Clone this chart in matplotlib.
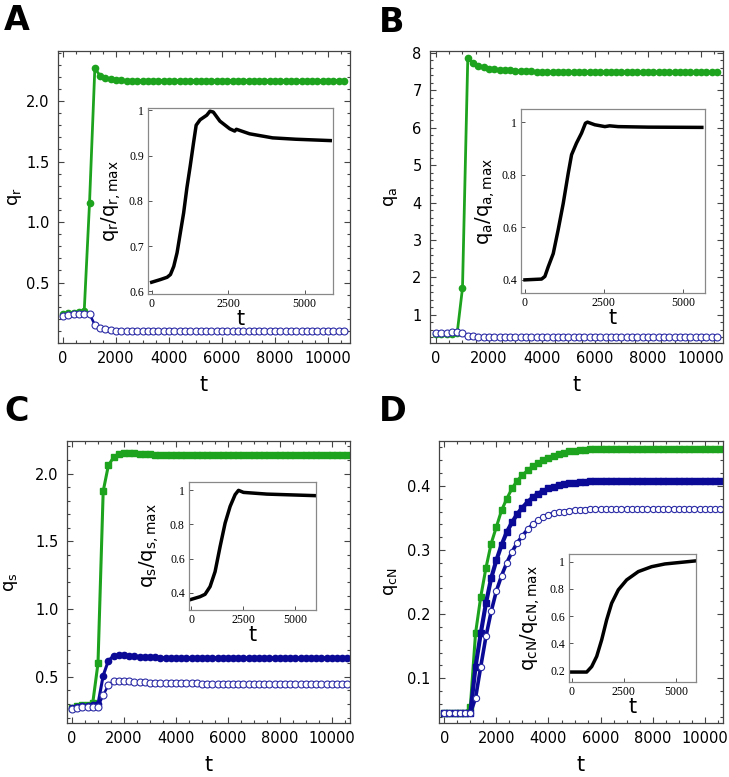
import numpy as np
import matplotlib
matplotlib.use("Agg")
import matplotlib.pyplot as plt
from matplotlib.ticker import MultipleLocator, FuncFormatter

plt.rcParams["font.family"] = ["DejaVu Sans"]
plt.rcParams["mathtext.fontset"] = "dejavusans"

W, H = 729, 777

# time grid of the main panels (one marker every 200 time units)
t = np.arange(0, 10601, 200)

# ---- panel A : q_r
qr_green = [0.24, 0.245, 0.25, 0.26, 0.265, 1.16, 2.27, 2.21, 2.19, 2.18, 2.175, 2.172,
            2.17, 2.17, 2.17, 2.17, 2.17, 2.17, 2.17, 2.17, 2.17, 2.17,
            2.17, 2.17, 2.17, 2.17, 2.17, 2.17, 2.17, 2.17, 2.17, 2.17,
            2.17, 2.17, 2.17, 2.17, 2.17, 2.17, 2.17, 2.17, 2.17, 2.17,
            2.17, 2.17, 2.17, 2.17, 2.17, 2.17, 2.17, 2.17, 2.17, 2.17, 2.17, 2.17]
qr_open = [0.225, 0.235, 0.24, 0.24, 0.24, 0.24, 0.15, 0.125, 0.113, 0.106, 0.102, 0.10,
           0.098, 0.097, 0.096, 0.096, 0.096, 0.096, 0.096, 0.096, 0.096, 0.096,
           0.096, 0.096, 0.096, 0.096, 0.096, 0.096, 0.096, 0.096, 0.096, 0.096,
           0.096, 0.096, 0.096, 0.096, 0.096, 0.096, 0.096, 0.096, 0.096, 0.096,
           0.096, 0.096, 0.096, 0.096, 0.096, 0.096, 0.096, 0.096, 0.096, 0.096, 0.096, 0.096]

# ---- panel B : q_a
qa_green = [0.5, 0.5, 0.5, 0.5, 0.52, 1.72, 7.87, 7.72, 7.65, 7.61, 7.58, 7.56,
            7.55, 7.54, 7.53, 7.52, 7.515, 7.51, 7.505, 7.50, 7.50, 7.495,
            7.49, 7.49, 7.49, 7.49, 7.49, 7.49, 7.49, 7.49, 7.49, 7.49,
            7.49, 7.49, 7.49, 7.49, 7.49, 7.49, 7.485, 7.485, 7.485, 7.485,
            7.485, 7.485, 7.48, 7.48, 7.48, 7.48, 7.48, 7.48, 7.48, 7.48, 7.48, 7.48]
qa_open = [0.53, 0.53, 0.53, 0.535, 0.535, 0.52, 0.45, 0.43, 0.42, 0.41, 0.405, 0.40,
           0.40, 0.40, 0.40, 0.40, 0.40, 0.40, 0.40, 0.40, 0.40, 0.40,
           0.40, 0.40, 0.40, 0.40, 0.40, 0.40, 0.40, 0.40, 0.40, 0.40,
           0.40, 0.40, 0.40, 0.40, 0.40, 0.40, 0.40, 0.40, 0.40, 0.40,
           0.40, 0.40, 0.40, 0.40, 0.40, 0.40, 0.40, 0.40, 0.40, 0.40, 0.40, 0.40]

# ---- panel C : q_s
qs_green = [0.27, 0.285, 0.29, 0.295, 0.31, 0.60, 1.87, 2.06, 2.12, 2.147, 2.15, 2.15,
            2.148, 2.146, 2.144, 2.142, 2.14, 2.139, 2.138, 2.137, 2.136, 2.136,
            2.136, 2.136, 2.136, 2.136, 2.135, 2.135, 2.135, 2.135, 2.135, 2.135,
            2.135, 2.135, 2.135, 2.135, 2.135, 2.135, 2.135, 2.135, 2.135, 2.135,
            2.135, 2.135, 2.135, 2.135, 2.135, 2.135, 2.135, 2.135, 2.135, 2.135, 2.135, 2.135]
qs_filled = [0.27, 0.28, 0.285, 0.285, 0.29, 0.30, 0.51, 0.62, 0.655, 0.66, 0.66, 0.655,
             0.652, 0.65, 0.648, 0.646, 0.644, 0.643, 0.642, 0.641, 0.64, 0.64,
             0.64, 0.64, 0.64, 0.64, 0.64, 0.64, 0.64, 0.64, 0.64, 0.64,
             0.64, 0.64, 0.64, 0.64, 0.64, 0.64, 0.64, 0.64, 0.64, 0.64,
             0.64, 0.64, 0.64, 0.64, 0.64, 0.64, 0.64, 0.64, 0.64, 0.64, 0.64, 0.64]
qs_open = [0.26, 0.27, 0.28, 0.28, 0.28, 0.28, 0.365, 0.44, 0.468, 0.472, 0.47, 0.467,
           0.464, 0.461, 0.459, 0.458, 0.457, 0.456, 0.455, 0.455, 0.454, 0.454,
           0.453, 0.453, 0.452, 0.45, 0.45, 0.45, 0.45, 0.45, 0.45, 0.45,
           0.45, 0.45, 0.45, 0.45, 0.45, 0.45, 0.45, 0.45, 0.45, 0.45,
           0.45, 0.45, 0.45, 0.45, 0.45, 0.45, 0.45, 0.45, 0.45, 0.45, 0.45, 0.45]

# ---- panel D : q_cN
qc_green = [0.045, 0.045, 0.045, 0.045, 0.045, 0.055, 0.17, 0.227, 0.272, 0.31, 0.336, 0.362,
            0.38, 0.396, 0.408, 0.417, 0.424, 0.431, 0.436, 0.44, 0.444, 0.447,
            0.45, 0.452, 0.454, 0.455, 0.456, 0.456, 0.457, 0.457, 0.458, 0.458,
            0.458, 0.458, 0.458, 0.458, 0.458, 0.458, 0.458, 0.458, 0.458, 0.458,
            0.458, 0.458, 0.458, 0.458, 0.458, 0.458, 0.458, 0.458, 0.458, 0.458, 0.458, 0.458]
qc_filled = [0.045, 0.045, 0.045, 0.045, 0.045, 0.045, 0.118, 0.17, 0.217, 0.256, 0.284, 0.308,
             0.328, 0.343, 0.356, 0.366, 0.375, 0.382, 0.388, 0.392, 0.396, 0.399,
             0.401, 0.403, 0.404, 0.405, 0.406, 0.406, 0.407, 0.407, 0.408, 0.408,
             0.408, 0.408, 0.408, 0.408, 0.408, 0.408, 0.408, 0.408, 0.408, 0.408,
             0.408, 0.408, 0.408, 0.408, 0.408, 0.408, 0.408, 0.408, 0.408, 0.408, 0.408, 0.408]
qc_open = [0.045, 0.045, 0.045, 0.045, 0.045, 0.045, 0.069, 0.118, 0.165, 0.204, 0.236, 0.26,
           0.28, 0.297, 0.311, 0.322, 0.332, 0.34, 0.346, 0.351, 0.355, 0.357,
           0.359, 0.36, 0.361, 0.362, 0.363, 0.363, 0.364, 0.364, 0.364, 0.364,
           0.364, 0.364, 0.364, 0.364, 0.364, 0.364, 0.364, 0.364, 0.364, 0.364,
           0.364, 0.364, 0.364, 0.364, 0.364, 0.364, 0.364, 0.364, 0.364, 0.364, 0.364, 0.364]

# ---- insets (normalised curves)
ins_a_t = [0, 290, 506, 614, 722, 830, 937, 1045, 1153, 1261, 1369, 1455, 1584, 1692,
           1800, 1907, 2015, 2231, 2554, 2716, 2770, 3200, 3955, 4709, 5840]
ins_a_v = [0.62, 0.626, 0.631, 0.637, 0.655, 0.685, 0.729, 0.773, 0.829, 0.877, 0.928,
           0.967, 0.979, 0.984, 0.989, 0.998, 0.996, 0.976, 0.959, 0.954, 0.958, 0.948,
           0.939, 0.936, 0.933]
ins_b_t = [0, 526, 630, 737, 895, 1050, 1210, 1370, 1475, 1630, 1790, 1915, 1980, 2210,
           2530, 2680, 2950, 3900, 5600]
ins_b_v = [0.40, 0.403, 0.413, 0.45, 0.50, 0.59, 0.69, 0.806, 0.876, 0.92, 0.958, 0.996,
           1.0, 0.99, 0.983, 0.986, 0.983, 0.981, 0.98]
ins_c_t = [0, 433, 673, 913, 1154, 1394, 1635, 1875, 2115, 2276, 2516, 3638, 5930]
ins_c_v = [0.36, 0.376, 0.39, 0.435, 0.523, 0.67, 0.808, 0.906, 0.975, 1.0, 0.988,
           0.978, 0.969]
ins_d_t = [0, 720, 960, 1200, 1440, 1677, 1917, 2236, 2636, 3195, 3834, 4470, 5910]
ins_d_v = [0.19, 0.19, 0.23, 0.305, 0.427, 0.573, 0.695, 0.793, 0.866, 0.927, 0.963,
           0.983, 1.005]

GREEN = "#1da31d"
NAVY = "#0a0a96"
OPEN = "#2b2ba6"


def rect(x0, y0, x1, y1):
    # pixel box (top-left origin) -> figure fraction
    return [x0 / W, 1 - y1 / H, (x1 - x0) / W, (y1 - y0) / H]


def style_main(ax, xlim, ylim, ymajor, yminor, ylabel, ylab_x):
    ax.set_xlim(*xlim)
    ax.set_ylim(*ylim)
    ax.xaxis.set_major_locator(MultipleLocator(2000))
    ax.xaxis.set_minor_locator(MultipleLocator(500))
    ax.yaxis.set_major_locator(MultipleLocator(ymajor))
    ax.yaxis.set_minor_locator(MultipleLocator(yminor))
    ax.tick_params(which="both", direction="in", top=True, right=True,
                   color="#444444", labelsize=10.5, width=0.8)
    ax.tick_params(which="major", length=4.5, pad=6)
    ax.tick_params(which="minor", length=2.5)
    for s in ax.spines.values():
        s.set_color("#444444")
        s.set_linewidth(0.9)
    ax.set_xlabel("t", fontsize=15, labelpad=6)
    ax.set_ylabel(ylabel, fontsize=13)
    # label coords give the right-hand edge of the rotated label
    ax.yaxis.set_label_coords(ylab_x, 0.5)


def style_inset(ax, xlim, ylim, yticks, ylabel, ylab_x):
    ax.set_xlim(*xlim)
    ax.set_ylim(*ylim)
    ax.set_xticks([0, 2500, 5000])
    ax.set_yticks(yticks)
    ax.yaxis.set_major_formatter(FuncFormatter(
        lambda v, p: "1" if abs(v - 1) < 1e-9 else f"{v:.1f}"))
    ax.tick_params(direction="in", length=3, width=0.7, color="#555555", pad=3)
    for lab in ax.get_xticklabels() + ax.get_yticklabels():
        lab.set_fontfamily("Liberation Serif")
        lab.set_fontsize(8.5)
    for s in ax.spines.values():
        s.set_color("#888888")
        s.set_linewidth(0.9)
    ax.set_xlabel("t", fontsize=15, labelpad=-1)
    ax.set_ylabel(ylabel, fontsize=14)
    ax.yaxis.set_label_coords(ylab_x, 0.5)


fig = plt.figure(figsize=(W / 100, H / 100), dpi=100)

# A
ax = fig.add_axes(rect(58, 51, 350, 343))
ax.plot(t, qr_green, "-", color=GREEN, lw=2.0, marker="o", ms=4.5, mec=GREEN)
ax.plot(t, qr_open, "-", color=NAVY, lw=1.8, marker="o", ms=5, mfc="white",
        mec=OPEN, mew=0.8)
style_main(ax, (-190, 10830), (0.0, 2.414), 0.5, 0.1, r"q$_\mathregular{r}$",
           (24 - 58) / 292)
ax.set_yticks([0.5, 1.0, 1.5, 2.0])
ins = fig.add_axes(rect(148, 108, 333, 294))
ins.plot(ins_a_t, ins_a_v, color="black", lw=2.5)
style_inset(ins, (-120, 5930), (0.594, 1.005), [0.6, 0.7, 0.8, 0.9, 1.0],
            r"q$_\mathregular{r}$/q$_\mathregular{r,max}$", (123 - 148) / 185)

# B
ax = fig.add_axes(rect(430, 51, 723, 343))
ax.plot(t, qa_green, "-", color=GREEN, lw=2.0, marker="o", ms=4.5, mec=GREEN)
ax.plot(t, qa_open, "-", color=NAVY, lw=1.8, marker="o", ms=5, mfc="white",
        mec=OPEN, mew=0.8)
style_main(ax, (-226, 10830), (0.25, 8.05), 1, 0.2, r"q$_\mathregular{a}$",
           (400 - 430) / 293)
ax.set_yticks(range(1, 9))
ins = fig.add_axes(rect(521, 109, 705, 293))
ins.plot(ins_b_t, ins_b_v, color="black", lw=2.5)
style_inset(ins, (-126, 5700), (0.35, 1.05), [0.4, 0.6, 0.8, 1.0],
            r"q$_\mathregular{a}$/q$_\mathregular{a,max}$", (497 - 521) / 184)

# C
ax = fig.add_axes(rect(67, 441, 350, 723))
ax.plot(t, qs_green, "-", color=GREEN, lw=2.2, marker="s", ms=4, mec=GREEN)
ax.plot(t, qs_filled, "-", color=NAVY, lw=2.2, marker="o", ms=4.5, mec=NAVY)
ax.plot(t, qs_open, "-", color=NAVY, lw=1.8, marker="o", ms=5, mfc="white",
        mec=OPEN, mew=0.8)
style_main(ax, (-193, 10700), (0.16, 2.24), 0.5, 0.1, r"q$_\mathregular{s}$",
           (20 - 67) / 283)
ins = fig.add_axes(rect(189, 482, 316, 610))
ins.plot(ins_c_t, ins_c_v, color="black", lw=2.5)
style_inset(ins, (-96, 5990), (0.298, 1.049), [0.4, 0.6, 0.8, 1.0],
            r"q$_\mathregular{s}$/q$_\mathregular{s,max}$", (161 - 189) / 127)

# D
ax = fig.add_axes(rect(439, 441, 723, 723))
ax.plot(t, qc_green, "-", color=GREEN, lw=2.2, marker="s", ms=4, mec=GREEN)
ax.plot(t, qc_filled, "-", color=NAVY, lw=3.0, marker="s", ms=4.5, mec=NAVY)
ax.plot(t, qc_open, "-", color=NAVY, lw=2.6, marker="o", ms=4.5, mfc="white",
        mec=OPEN, mew=0.8)
style_main(ax, (-203, 10700), (0.03, 0.47), 0.1, 0.02, r"q$_\mathregular{cN}$",
           (400 - 439) / 284)
ins = fig.add_axes(rect(569, 554, 696, 682))
ins.plot(ins_d_t, ins_d_v, color="black", lw=2.5)
style_inset(ins, (-128, 5960), (0.117, 1.056), [0.2, 0.4, 0.6, 0.8, 1.0],
            r"q$_\mathregular{cN}$/q$_\mathregular{cN,max}$", (542 - 569) / 127)

for letter, x, y in [("A", 4, 4), ("B", 379, 6), ("C", 4, 395), ("D", 379, 395)]:
    fig.text(x / W, 1 - y / H, letter, fontsize=24, fontweight="bold",
             va="top", ha="left")

fig.savefig("out.png", dpi=100)
